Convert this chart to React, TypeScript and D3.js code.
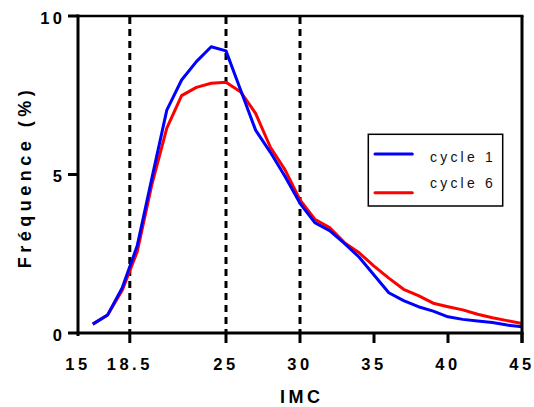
import React from "react";
import * as d3 from "d3";

const bmi = [16, 17, 18, 19, 20, 21, 22, 23, 24, 25, 26, 27, 28, 29, 30, 31, 32, 33, 34, 35, 36, 37, 38, 39, 40, 41, 42, 43, 44, 45];
const cycle1 = [0.28, 0.57, 1.44, 2.75, 4.9, 7.03, 7.98, 8.56, 9.03, 8.9, 7.65, 6.4, 5.7, 4.93, 4.09, 3.48, 3.23, 2.83, 2.39, 1.83, 1.27, 1.02, 0.83, 0.69, 0.51, 0.43, 0.38, 0.33, 0.25, 0.2];
const cycle6 = [0.28, 0.57, 1.36, 2.56, 4.7, 6.46, 7.49, 7.75, 7.88, 7.91, 7.6, 6.93, 5.86, 5.14, 4.2, 3.59, 3.33, 2.85, 2.53, 2.11, 1.73, 1.38, 1.18, 0.94, 0.83, 0.73, 0.59, 0.48, 0.39, 0.3];
const xTicks = [15, 18.5, 25, 30, 35, 40, 45];
const xTickLabels = ["15", "18.5", "25", "30", "35", "40", "45"];
const yTicks = [0, 5, 10];
const refLines = [18.5, 25, 30];
const seriesNames = ["cycle 1", "cycle 6"];
const seriesColors = ["#0000FF", "#FF0000"];

const W = 534;
const H = 407;
const L = 78, R = 522, T = 16, B = 333;
const FONT = "'Liberation Sans', Arial, sans-serif";

export default function App() {
  const x = d3.scaleLinear().domain([15, 45]).range([L, R]);
  const y = d3.scaleLinear().domain([0, 10]).range([B, T]);
  const line = d3
    .line<number>()
    .x((_, i) => x(bmi[i]))
    .y((d) => y(d));
  const series = [cycle1, cycle6];

  return (
    <svg
      width={W}
      height={H}
      style={{ position: "absolute", left: 0, top: 0, background: "#fff" }}
    >
      {/* reference dashed lines */}
      {refLines.map((v) => (
        <line
          key={"r" + v}
          x1={x(v)}
          x2={x(v)}
          y1={T + 1}
          y2={B}
          stroke="#000"
          strokeWidth={3}
          strokeDasharray="7 5"
        />
      ))}
      {/* series: red then blue on top */}
      {[1, 0].map((k) => (
        <path
          key={"s" + k}
          d={line(series[k]) || ""}
          fill="none"
          stroke={seriesColors[k]}
          strokeWidth={3}
          strokeLinejoin="round"
        />
      ))}
      {/* frame */}
      <line x1={L} x2={R + 1.5} y1={T} y2={T} stroke="#000" strokeWidth={2.5} />
      <line x1={R} x2={R} y1={T} y2={B + 10} stroke="#000" strokeWidth={3} />
      <line x1={L} x2={L} y1={T - 1.5} y2={B + 3} stroke="#000" strokeWidth={3} />
      <line x1={L - 1.5} x2={R + 1.5} y1={B} y2={B} stroke="#000" strokeWidth={3} />
      {/* x ticks */}
      {xTicks.map((t, i) => (
        <g key={"xt" + t}>
          {i > 0 && (
            <line x1={x(t)} x2={x(t)} y1={B} y2={B + 10} stroke="#000" strokeWidth={3} />
          )}
          <text
            x={x(t)}
            y={370}
            textAnchor="middle"
            fontFamily={FONT}
            fontWeight="bold"
            fontSize={16.5}
            style={{ letterSpacing: "3.5px" }}
            fill="#000"
          >
            {xTickLabels[i]}
          </text>
        </g>
      ))}
      {/* y ticks */}
      {yTicks.map((t) => (
        <g key={"yt" + t}>
          <line x1={L - 10} x2={L} y1={y(t)} y2={y(t)} stroke="#000" strokeWidth={3} />
          <text
            x={65.5}
            y={y(t) + 7.5}
            textAnchor="end"
            fontFamily={FONT}
            fontWeight="bold"
            fontSize={16.5}
            style={{ letterSpacing: "3.5px" }}
            fill="#000"
          >
            {String(t)}
          </text>
        </g>
      ))}
      {/* axis titles */}
      <text
        x={300 + 1.75}
        y={402.7}
        textAnchor="middle"
        fontFamily={FONT}
        fontWeight="bold"
        fontSize={18}
        style={{ letterSpacing: "3.5px" }}
        fill="#000"
      >
        IMC
      </text>
      <text
        transform={`translate(30.7, ${175 + 2}) rotate(-90)`}
        textAnchor="middle"
        fontFamily={FONT}
        fontWeight="bold"
        fontSize={18}
        style={{ letterSpacing: "4.5px" }}
        fill="#000"
      >
        Fréquence (%)
      </text>
      {/* legend */}
      <rect x={368.3} y={134.3} width={134.4} height={71.7} fill="#fff" stroke="#000" strokeWidth={1.5} />
      {seriesNames.map((n, i) => (
        <g key={"lg" + i}>
          <line
            x1={375}
            x2={412.3}
            y1={i === 0 ? 154 : 192.7}
            y2={i === 0 ? 154 : 192.7}
            stroke={seriesColors[i]}
            strokeWidth={3}
            strokeLinecap="round"
          />
          <text
            x={430}
            y={i === 0 ? 161.7 : 188.3}
            fontFamily={FONT}
            fontSize={14}
            style={{ letterSpacing: "3.2px" }}
            fill="#111"
          >
            {n}
          </text>
        </g>
      ))}
    </svg>
  );
}
